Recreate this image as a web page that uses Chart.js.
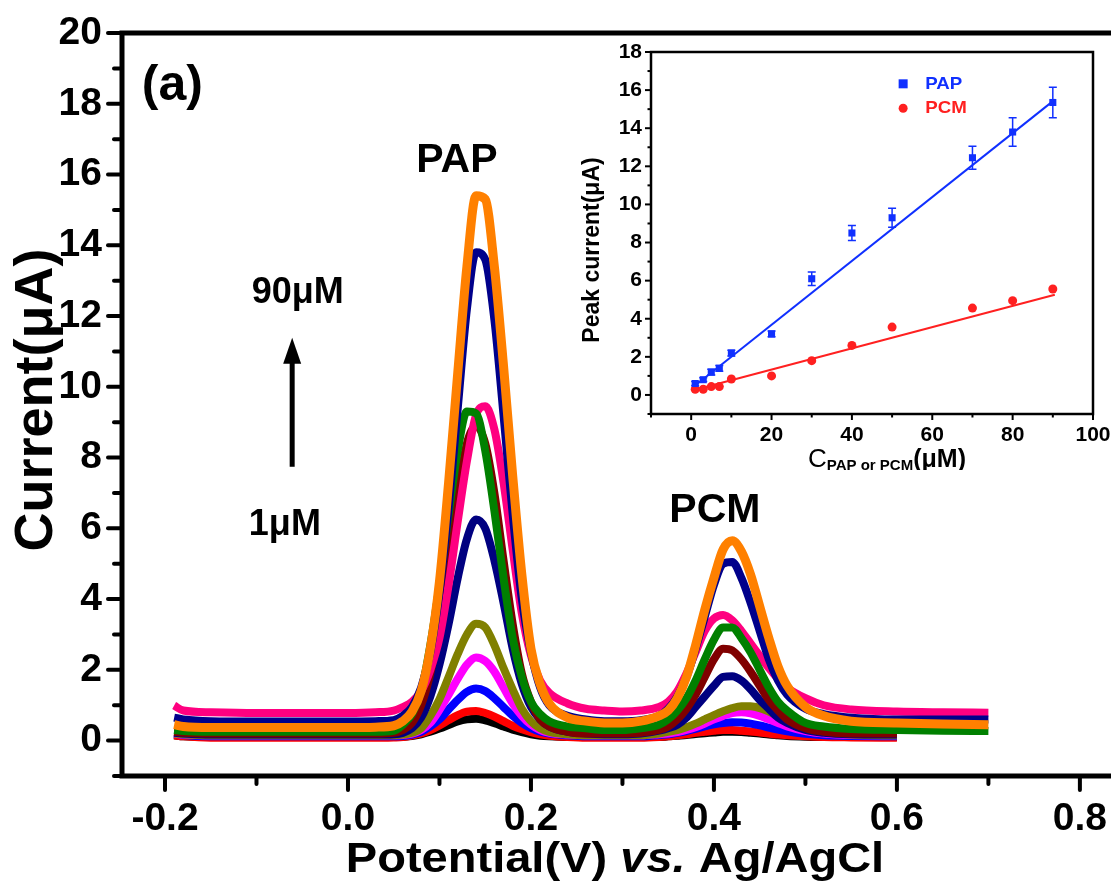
<!DOCTYPE html>
<html>
<head>
<meta charset="utf-8">
<title>DPV of PAP and PCM</title>
<script src="https://cdn.jsdelivr.net/npm/chart.js@4.4.1/dist/chart.umd.min.js"></script>
<style>
  html, body { margin: 0; padding: 0; background: #fff; }
  #wrap { position: relative; width: 1111px; height: 893px; overflow: hidden; }
  #mainChart { position: absolute; left: 0; top: 0; }
  #insetChart { position: absolute; left: 575px; top: 37px; background: #fff; }
</style>
</head>
<body>
<div id="wrap">
  <canvas id="mainChart" width="1111" height="893"></canvas>
  <canvas id="insetChart" width="536" height="433"></canvas>
</div>
<script>
// ---- main figure: DPV curves (current in uA vs potential in V) ----
const potential = [-0.19, -0.18, -0.15, -0.10, -0.05, 0.00, 0.03, 0.05,
  0.06, 0.07, 0.08, 0.09, 0.10, 0.11, 0.12, 0.13, 0.14, 0.15, 0.16, 0.17, 0.18, 0.19, 0.20, 0.21, 0.22,
  0.24, 0.26, 0.28, 0.30, 0.32, 0.34,
  0.35, 0.36, 0.37, 0.38, 0.39, 0.40, 0.41, 0.42, 0.43, 0.44, 0.45, 0.46, 0.47, 0.48,
  0.50, 0.52, 0.55, 0.60, 0.65, 0.70];

const curveOrange = [0.45, 0.40, 0.37, 0.37, 0.37, 0.37, 0.38, 0.42,
  0.55, 0.82, 1.4, 2.6, 4.5, 7.3, 10.4, 13.4, 15.4, 15.3, 13.4, 10.6, 7.5, 4.7, 2.6, 1.6, 1.05,
  0.65, 0.55, 0.5, 0.5, 0.55, 0.7,
  0.85, 1.2, 1.8, 2.7, 3.7, 4.6, 5.4, 5.65, 5.35, 4.7, 3.8, 2.9, 2.1, 1.55,
  0.95, 0.7, 0.55, 0.5, 0.47, 0.45];
const curveNavy2 = [0.65, 0.6, 0.55, 0.54, 0.54, 0.54, 0.55, 0.58,
  0.7, 0.95, 1.5, 2.5, 4.2, 6.6, 9.4, 12.2, 13.8, 13.6, 11.9, 9.2, 6.4, 4.0, 2.5, 1.5, 1.0,
  0.7, 0.6, 0.55, 0.55, 0.58, 0.7,
  0.9, 1.25, 1.8, 2.6, 3.5, 4.4, 5.0, 5.05, 4.6, 3.9, 3.1, 2.3, 1.7, 1.3,
  0.9, 0.75, 0.65, 0.6, 0.6, 0.6];
const curvePink = [0.99, 0.85, 0.8, 0.78, 0.78, 0.78, 0.8, 0.85,
  0.95, 1.1, 1.4, 2.0, 2.9, 4.4, 6.2, 7.9, 9.2, 9.45, 8.8, 7.3, 5.4, 3.6, 2.4, 1.7, 1.35,
  1.05, 0.9, 0.85, 0.82, 0.85, 0.95,
  1.1, 1.4, 1.9, 2.5, 3.1, 3.45, 3.55, 3.4, 3.1, 2.75, 2.4, 2.05, 1.75, 1.5,
  1.2, 1.0, 0.88, 0.82, 0.8, 0.79];
const curveGreen = [0.3, 0.27, 0.25, 0.25, 0.25, 0.25, 0.25, 0.28,
  0.45, 0.75, 1.4, 2.7, 4.4, 6.4, 8.2, 9.3, 9.25, 8.2, 6.5, 4.6, 2.9, 1.8, 1.1, 0.75, 0.55,
  0.4, 0.35, 0.3, 0.3, 0.35, 0.45,
  0.6, 0.85, 1.2, 1.7, 2.3, 2.85, 3.2, 3.2, 2.9, 2.5, 2.0, 1.5, 1.1, 0.85,
  0.5, 0.4, 0.33, 0.3, 0.28, 0.27];
const curveMaroon = [0.25, 0.22, 0.2, 0.2, 0.2, 0.2, 0.2, 0.22,
  0.3, 0.5, 1.0, 1.9, 3.3, 5.1, 6.9, 8.4, 8.9, 8.4, 7.0, 5.1, 3.3, 1.9, 1.1, 0.6, 0.4,
  0.25, 0.2, 0.2, 0.2, 0.22, 0.3,
  0.4, 0.6, 0.9, 1.3, 1.8, 2.3, 2.6, 2.55, 2.3, 1.95, 1.55, 1.15, 0.85, 0.6,
  0.35, 0.25, 0.2, 0.2, null, null];
const curveNavy1 = [0.22, 0.2, 0.17, 0.17, 0.17, 0.17, 0.17, 0.18,
  0.22, 0.35, 0.65, 1.25, 2.15, 3.3, 4.6, 5.7, 6.25, 6.0, 5.1, 3.9, 2.6, 1.6, 0.95, 0.6, 0.4,
  0.25, 0.2, 0.18, 0.18, 0.2, 0.28,
  0.35, 0.45, 0.65, 0.95, 1.25, 1.55, 1.8, 1.82, 1.7, 1.45, 1.15, 0.9, 0.65, 0.5,
  0.3, 0.22, 0.18, 0.17, null, null];
const curveOlive = [0.2, 0.18, 0.15, 0.15, 0.15, 0.15, 0.15, 0.15,
  0.17, 0.22, 0.35, 0.7, 1.17, 1.8, 2.45, 3.0, 3.3, 3.2, 2.7, 2.05, 1.45, 0.9, 0.55, 0.35, 0.25,
  0.18, 0.15, 0.15, 0.15, 0.15, 0.2,
  0.25, 0.3, 0.38, 0.48, 0.6, 0.72, 0.83, 0.92, 0.97, 0.97, 0.92, 0.82, 0.7, 0.57,
  0.36, 0.24, 0.17, 0.15, null, null];
const curveMagenta = [0.2, 0.17, 0.15, 0.15, 0.15, 0.15, 0.15, 0.15,
  0.16, 0.2, 0.3, 0.5, 0.87, 1.3, 1.75, 2.15, 2.35, 2.25, 1.95, 1.5, 1.05, 0.7, 0.45, 0.3, 0.22,
  0.17, 0.15, 0.15, 0.15, 0.15, 0.18,
  0.2, 0.24, 0.3, 0.38, 0.48, 0.6, 0.7, 0.78, 0.8, 0.77, 0.7, 0.6, 0.5, 0.4,
  0.27, 0.2, 0.16, 0.15, null, null];
const curveBlue = [0.2, 0.16, 0.12, 0.12, 0.12, 0.12, 0.12, 0.12,
  0.13, 0.17, 0.25, 0.4, 0.6, 0.88, 1.15, 1.38, 1.47, 1.4, 1.2, 0.95, 0.7, 0.5, 0.35, 0.25, 0.2,
  0.15, 0.12, 0.12, 0.12, 0.12, 0.16,
  0.18, 0.22, 0.27, 0.33, 0.4, 0.46, 0.5, 0.52, 0.51, 0.48, 0.43, 0.37, 0.31, 0.26,
  0.19, 0.15, 0.13, 0.12, null, null];
const curveRed = [0.15, 0.12, 0.08, 0.08, 0.08, 0.08, 0.08, 0.09,
  0.1, 0.14, 0.2, 0.3, 0.43, 0.58, 0.72, 0.82, 0.84, 0.78, 0.68, 0.55, 0.42, 0.32, 0.24, 0.18, 0.14,
  0.1, 0.08, 0.08, 0.08, 0.08, 0.1,
  0.12, 0.15, 0.18, 0.22, 0.25, 0.28, 0.3, 0.3, 0.28, 0.26, 0.23, 0.2, 0.17, 0.15,
  0.12, 0.1, 0.09, 0.08, null, null];
const curveBlack = [0.15, 0.12, 0.1, 0.1, 0.1, 0.1, 0.1, 0.1,
  0.11, 0.13, 0.18, 0.25, 0.34, 0.44, 0.54, 0.6, 0.62, 0.57, 0.49, 0.4, 0.31, 0.24, 0.18, 0.14, 0.12,
  0.1, 0.1, 0.1, 0.1, 0.1, 0.1,
  0.12, 0.14, 0.16, 0.19, 0.21, 0.23, 0.25, 0.25, 0.24, 0.22, 0.2, 0.17, 0.15, 0.13,
  0.11, 0.1, 0.1, 0.1, null, null];

const xTicks = [-0.2, -0.1, 0, 0.1, 0.2, 0.3, 0.4, 0.5, 0.6, 0.7, 0.8];
const xTickLabels = ['-0.2', '', '0.0', '', '0.2', '', '0.4', '', '0.6', '', '0.8'];
const yTicks = [-1, 0, 1, 2, 3, 4, 5, 6, 7, 8, 9, 10, 11, 12, 13, 14, 15, 16, 17, 18, 19, 20];

// ---- inset: peak current vs concentration ----
const concentration = [1, 3, 5, 7, 10, 20, 30, 40, 50, 70, 80, 90];
const papPeak = [0.6, 0.8, 1.2, 1.4, 2.2, 3.2, 6.1, 8.5, 9.3, 12.45, 13.8, 15.35];
const papErr = [0.1, 0.1, 0.15, 0.15, 0.15, 0.15, 0.35, 0.4, 0.5, 0.6, 0.75, 0.8];
const pcmPeak = [0.3, 0.3, 0.44, 0.44, 0.84, 1.0, 1.8, 2.6, 3.56, 4.56, 4.95, 5.56];
const fitRange = [1, 90.5];
const papFit = [0.5, 15.5];
const pcmFit = [0.27, 5.26];
const insetXTicks = [-10, 0, 10, 20, 30, 40, 50, 60, 70, 80, 90, 100];
const insetXLabels = ['', '0', '', '20', '', '40', '', '60', '', '80', '', '100'];
const insetYTicks = [-1, 0, 1, 2, 3, 4, 5, 6, 7, 8, 9, 10, 11, 12, 13, 14, 15, 16, 17, 18];

const FONT = '"Liberation Sans", Arial, sans-serif';

// drawn top first
const curves = [
  { data: curveOrange, color: '#FF8000', width: 9 },
  { data: curveNavy2, color: '#00008B', width: 8 },
  { data: curveGreen, color: '#008000', width: 8 },
  { data: curvePink, color: '#FF0080', width: 8 },
  { data: curveMaroon, color: '#800000', width: 8 },
  { data: curveNavy1, color: '#000080', width: 8 },
  { data: curveOlive, color: '#808000', width: 8 },
  { data: curveMagenta, color: '#FF00FF', width: 8 },
  { data: curveBlue, color: '#0000FF', width: 8 },
  { data: curveRed, color: '#FF0000', width: 8 },
  { data: curveBlack, color: '#000000', width: 8 }
];

function points(xs, ys) {
  return xs.map((x, i) => ({ x: x, y: ys[i] }));
}

// keep the plot area exactly where layout.padding puts it
function noScalePadding(s) {
  s.paddingLeft = 0;
  s.paddingRight = 0;
  s.paddingTop = 0;
  s.paddingBottom = 0;
}

function drawParts(ctx, parts, x, y, align, stretch) {
  const k = stretch || 1;
  let total = 0;
  parts.forEach(p => { ctx.font = p.font; p.w = ctx.measureText(p.text).width; total += p.w; });
  ctx.save();
  ctx.translate(x, y);
  ctx.scale(k, 1);
  let cx = align === 'center' ? -total / 2 : 0;
  ctx.textAlign = 'left';
  ctx.textBaseline = 'middle';
  parts.forEach(p => {
    ctx.font = p.font;
    ctx.fillStyle = p.color || '#000';
    ctx.fillText(p.text, cx, p.dy || 0);
    cx += p.w;
  });
  ctx.restore();
}

const mainLabels = [
  { text: '(a)', x: -0.192, y: 18.5, size: 50 },
  { text: 'PAP', x: 0.119, y: 16.4, size: 41 },
  { text: 'PCM', x: 0.401, y: 6.5, size: 41 },
  { text: '90μM', x: -0.055, y: 12.66, size: 36 },
  { text: '1μM', x: -0.069, y: 6.1, size: 36 }
];

const mainDecor = {
  id: 'mainDecor',
  afterDraw(chart) {
    const { ctx, chartArea: a, scales: { x, y } } = chart;
    ctx.save();
    ctx.strokeStyle = '#000';
    ctx.lineCap = 'round';

    // frame (right side runs off the picture)
    ctx.lineWidth = 5;
    ctx.beginPath();
    ctx.moveTo(a.right + 5, a.top);
    ctx.lineTo(a.left, a.top);
    ctx.lineTo(a.left, a.bottom);
    ctx.lineTo(a.right + 5, a.bottom);
    ctx.stroke();

    // outward ticks
    ctx.lineWidth = 4;
    yTicks.forEach(v => {
      const p = y.getPixelForValue(v);
      const len = v % 2 === 0 ? 14 : 8;
      ctx.beginPath(); ctx.moveTo(a.left, p); ctx.lineTo(a.left - len, p); ctx.stroke();
    });
    xTicks.forEach((v, i) => {
      const p = x.getPixelForValue(v);
      const len = i % 2 === 0 ? 14 : 8;
      ctx.beginPath(); ctx.moveTo(p, a.bottom); ctx.lineTo(p, a.bottom + len); ctx.stroke();
    });

    // axis titles
    ctx.fillStyle = '#000';
    drawParts(ctx, [
      { text: 'Potential(V) ', font: 'bold 42px ' + FONT },
      { text: 'vs.', font: 'italic bold 42px ' + FONT },
      { text: ' Ag/AgCl', font: 'bold 42px ' + FONT }
    ], 615, 860, 'center', 1.12);

    ctx.save();
    ctx.translate(37, 400);
    ctx.rotate(-Math.PI / 2);
    ctx.font = 'bold 54px ' + FONT;
    ctx.textAlign = 'center';
    ctx.textBaseline = 'middle';
    ctx.fillText('Current(μA)', 0, 0);
    ctx.restore();

    // annotations
    ctx.textAlign = 'center';
    ctx.textBaseline = 'middle';
    mainLabels.forEach(l => {
      ctx.font = 'bold ' + l.size + 'px ' + FONT;
      ctx.fillText(l.text, x.getPixelForValue(l.x), y.getPixelForValue(l.y));
    });

    // concentration arrow
    const ax = x.getPixelForValue(-0.061);
    const y0 = y.getPixelForValue(7.74);
    const y1 = y.getPixelForValue(11.39);
    ctx.lineWidth = 5;
    ctx.lineCap = 'butt';
    ctx.beginPath(); ctx.moveTo(ax, y0); ctx.lineTo(ax, y1 + 20); ctx.stroke();
    ctx.beginPath();
    ctx.moveTo(ax, y1);
    ctx.lineTo(ax + 9, y1 + 26);
    ctx.lineTo(ax - 9, y1 + 26);
    ctx.closePath();
    ctx.fill();
    ctx.restore();
  }
};

new Chart(document.getElementById('mainChart'), {
  type: 'line',
  data: {
    datasets: curves.map(c => ({
      data: points(potential, c.data),
      borderColor: c.color,
      borderWidth: c.width,
      pointRadius: 0,
      cubicInterpolationMode: 'monotone',
      fill: false
    }))
  },
  options: {
    responsive: false,
    animation: false,
    layout: { padding: { top: 33, right: 0, bottom: 0, left: 0 } },
    plugins: { legend: { display: false }, tooltip: { enabled: false } },
    scales: {
      x: {
        type: 'linear',
        min: -0.247,
        max: 0.834,
        afterFit: s => { s.height = 117; noScalePadding(s); },
        afterBuildTicks: s => { s.ticks = xTicks.map(v => ({ value: v })); },
        grid: { display: false, drawTicks: false },
        border: { display: false },
        ticks: {
          autoSkip: false,
          maxRotation: 0,
          padding: 20,
          color: '#000',
          font: { family: FONT, size: 39, weight: 'bold' },
          callback: (v, i) => xTickLabels[i]
        }
      },
      y: {
        type: 'linear',
        min: -1,
        max: 20,
        afterFit: s => { s.width = 122; noScalePadding(s); },
        afterBuildTicks: s => { s.ticks = yTicks.map(v => ({ value: v })); },
        grid: { display: false, drawTicks: false },
        border: { display: false },
        ticks: {
          autoSkip: false,
          padding: 20,
          color: '#000',
          font: { family: FONT, size: 39, weight: 'bold' },
          callback: v => (v >= 0 && v % 2 === 0 ? String(v) : '')
        }
      }
    }
  },
  plugins: [mainDecor]
});

// ---- inset chart ----
const insetDecor = {
  id: 'insetDecor',
  afterDatasetsDraw(chart) {
    const { ctx, scales: { x, y } } = chart;
    ctx.save();
    ctx.strokeStyle = '#1030FF';
    ctx.lineWidth = 1.5;
    concentration.forEach((c, i) => {
      const px = x.getPixelForValue(c);
      const top = y.getPixelForValue(papPeak[i] + papErr[i]);
      const bot = y.getPixelForValue(papPeak[i] - papErr[i]);
      ctx.beginPath();
      ctx.moveTo(px, top); ctx.lineTo(px, bot);
      ctx.moveTo(px - 4, top); ctx.lineTo(px + 4, top);
      ctx.moveTo(px - 4, bot); ctx.lineTo(px + 4, bot);
      ctx.stroke();
    });
    ctx.restore();
  },
  afterDraw(chart) {
    const { ctx, chartArea: a, scales: { x, y } } = chart;
    ctx.save();
    ctx.strokeStyle = '#000';
    ctx.lineWidth = 2.5;
    ctx.strokeRect(a.left, a.top, a.right - a.left, a.bottom - a.top);

    ctx.lineWidth = 2;
    insetYTicks.forEach(v => {
      const p = y.getPixelForValue(v);
      const len = v % 2 === 0 ? 6 : 3.5;
      ctx.beginPath(); ctx.moveTo(a.left, p); ctx.lineTo(a.left - len, p); ctx.stroke();
    });
    insetXTicks.forEach(v => {
      const p = x.getPixelForValue(v);
      const len = v % 20 === 0 ? 6 : 3.5;
      ctx.beginPath(); ctx.moveTo(p, a.bottom); ctx.lineTo(p, a.bottom + len); ctx.stroke();
    });

    // titles
    drawParts(ctx, [
      { text: 'C', font: '26px ' + FONT },
      { text: 'PAP or PCM', font: 'bold 15px ' + FONT, dy: 6 },
      { text: '(μM)', font: 'bold 25px ' + FONT }
    ], 312, 423, 'center');

    ctx.save();
    ctx.fillStyle = '#000';
    ctx.translate(18, 213);
    ctx.rotate(-Math.PI / 2);
    ctx.font = 'bold 23px ' + FONT;
    ctx.textAlign = 'center';
    ctx.textBaseline = 'middle';
    ctx.fillText('Peak current(μA)', 0, 0);
    ctx.restore();

    // legend
    const mx = x.getPixelForValue(52.75);
    const tx = x.getPixelForValue(58.25);
    const yPap = y.getPixelForValue(16.33);
    const yPcm = y.getPixelForValue(15.05);
    ctx.fillStyle = '#1030FF';
    ctx.fillRect(mx - 4.5, yPap - 4.5, 9, 9);
    drawParts(ctx, [{ text: 'PAP', font: 'bold 17px ' + FONT, color: '#1030FF' }], tx, yPap, 'left', 1.1);
    ctx.fillStyle = '#FF2020';
    ctx.beginPath(); ctx.arc(mx, yPcm, 4.5, 0, Math.PI * 2); ctx.fill();
    drawParts(ctx, [{ text: 'PCM', font: 'bold 17px ' + FONT, color: '#FF2020' }], tx, yPcm, 'left', 1.1);
    ctx.restore();
  }
};

new Chart(document.getElementById('insetChart'), {
  type: 'scatter',
  data: {
    datasets: [
      {
        data: points(concentration, papPeak),
        pointStyle: 'rect',
        pointRadius: 5,
        backgroundColor: '#1030FF',
        borderColor: '#1030FF',
        borderWidth: 0
      },
      {
        data: points(concentration, pcmPeak),
        pointStyle: 'circle',
        pointRadius: 4.5,
        backgroundColor: '#FF2020',
        borderColor: '#FF2020',
        borderWidth: 0
      },
      {
        type: 'line',
        data: points(fitRange, papFit),
        borderColor: '#1030FF',
        borderWidth: 2,
        pointRadius: 0
      },
      {
        type: 'line',
        data: points(fitRange, pcmFit),
        borderColor: '#FF2020',
        borderWidth: 2,
        pointRadius: 0
      }
    ]
  },
  options: {
    responsive: false,
    animation: false,
    layout: { padding: { top: 15, right: 18, bottom: 0, left: 0 } },
    plugins: { legend: { display: false }, tooltip: { enabled: false } },
    scales: {
      x: {
        type: 'linear',
        min: -10,
        max: 100,
        afterFit: s => { s.height = 56; noScalePadding(s); },
        afterBuildTicks: s => { s.ticks = insetXTicks.map(v => ({ value: v })); },
        grid: { display: false, drawTicks: false },
        border: { display: false },
        ticks: {
          autoSkip: false,
          maxRotation: 0,
          padding: 9,
          color: '#000',
          font: { family: FONT, size: 21, weight: 'bold' },
          callback: (v, i) => insetXLabels[i]
        }
      },
      y: {
        type: 'linear',
        min: -1,
        max: 18,
        afterFit: s => { s.width = 76; noScalePadding(s); },
        afterBuildTicks: s => { s.ticks = insetYTicks.map(v => ({ value: v })); },
        grid: { display: false, drawTicks: false },
        border: { display: false },
        ticks: {
          autoSkip: false,
          padding: 9,
          color: '#000',
          font: { family: FONT, size: 21, weight: 'bold' },
          callback: v => (v >= 0 && v % 2 === 0 ? String(v) : '')
        }
      }
    }
  },
  plugins: [insetDecor]
});
</script>
</body>
</html>
